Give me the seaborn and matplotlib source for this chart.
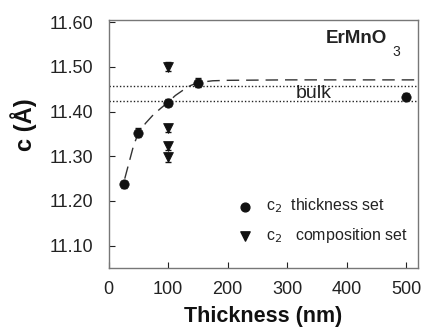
import matplotlib
matplotlib.use("Agg")
import matplotlib.pyplot as plt
import numpy as np
import pandas as pd
import seaborn as sns

# c2 thickness set (circles)
thick_x = [25, 50, 100, 150, 500]
thick_c = [11.237, 11.353, 11.420, 11.465, 11.433]
thick_err = [0.008, 0.010, 0.008, 0.010, 0.008]

# c2 composition set (down triangles), all at 100 nm
comp_x = [100, 100, 100, 100]
comp_c = [11.500, 11.363, 11.322, 11.298]
comp_err = [0.010, 0.008, 0.008, 0.010]

# dashed guide curve
fit_x = [27, 35, 42, 50, 62, 75, 88, 100, 112, 125, 137, 150, 175, 200, 300, 400, 520]
fit_c = [11.25, 11.29, 11.325, 11.352, 11.374, 11.393, 11.408, 11.421, 11.436, 11.448, 11.458,
         11.465, 11.469, 11.470, 11.471, 11.471, 11.471]

bulk_lo, bulk_hi = 11.423, 11.457

sns.set_style("ticks")
plt.rcParams["font.family"] = ["Liberation Sans", "DejaVu Sans"]

fig = plt.figure(figsize=(4.23, 3.29), dpi=100)
ax = fig.add_axes([108.7 / 423, 1 - 268 / 329, (418 - 108.7) / 423, (268 - 20) / 329])

ax.plot(fit_x, fit_c, color="#333333", lw=1.0, dashes=(9, 5))
ax.axhline(bulk_hi, color="#222222", lw=1.0, ls=(0, (1, 1.5)))
ax.axhline(bulk_lo, color="#222222", lw=1.0, ls=(0, (1, 1.5)))

df_t = pd.DataFrame({"x": thick_x, "c": thick_c})
df_c = pd.DataFrame({"x": comp_x, "c": comp_c})
ax.errorbar(thick_x, thick_c, yerr=thick_err, fmt="none", ecolor="#111111", elinewidth=0.9, capsize=2.5)
ax.errorbar(comp_x, comp_c, yerr=comp_err, fmt="none", ecolor="#111111", elinewidth=0.9, capsize=2.5)
sns.scatterplot(data=df_t, x="x", y="c", marker="o", s=45, color="#111111", edgecolor="#111111", ax=ax, zorder=5)
sns.scatterplot(data=df_c, x="x", y="c", marker="v", s=50, color="#111111", edgecolor="#111111", ax=ax, zorder=5)

# legend drawn by hand
ax.scatter([0.44], [0.246], transform=ax.transAxes, marker="o", s=40, color="#111111")
ax.scatter([0.44], [0.129], transform=ax.transAxes, marker="v", s=45, color="#111111")
ax.text(0.51, 0.25, r"c$_{2}$  thickness set", transform=ax.transAxes, fontsize=11.5, va="center",
        color="#222222")
ax.text(0.51, 0.133, r"c$_{2}$   composition set", transform=ax.transAxes, fontsize=11.5, va="center",
        color="#222222")

ax.text(0.703, 0.927, "ErMnO", transform=ax.transAxes, fontsize=13.5, fontweight="bold",
        ha="left", va="center", color="#222222")
ax.text(0.918, 0.87, "3", transform=ax.transAxes, fontsize=10, ha="left", va="center", color="#222222")
ax.text(345, 11.441, "bulk", fontsize=14, ha="center", va="center", color="#222222")

ax.set_xlim(0, 520)
ax.set_ylim(11.05, 11.605)
ax.set_xticks([0, 100, 200, 300, 400, 500])
ax.set_yticks([11.10, 11.20, 11.30, 11.40, 11.50, 11.60])
ax.set_yticklabels([f"{v:.2f}" for v in [11.10, 11.20, 11.30, 11.40, 11.50, 11.60]])
ax.tick_params(direction="in", length=4, width=0.8, labelsize=13, colors="#222222")
ax.tick_params(axis="y", pad=11)
ax.tick_params(axis="x", pad=9)
for sp in ax.spines.values():
    sp.set_color("#777777")
    sp.set_linewidth(1.0)

ax.set_xlabel("Thickness (nm)", fontsize=15.5, fontweight="bold", labelpad=6, color="#111111")
ax.set_ylabel("c (Å)", fontsize=17, fontweight="bold", color="#111111")
ax.yaxis.set_label_coords(-0.232, 0.577)

fig.savefig("out.png", dpi=100)
